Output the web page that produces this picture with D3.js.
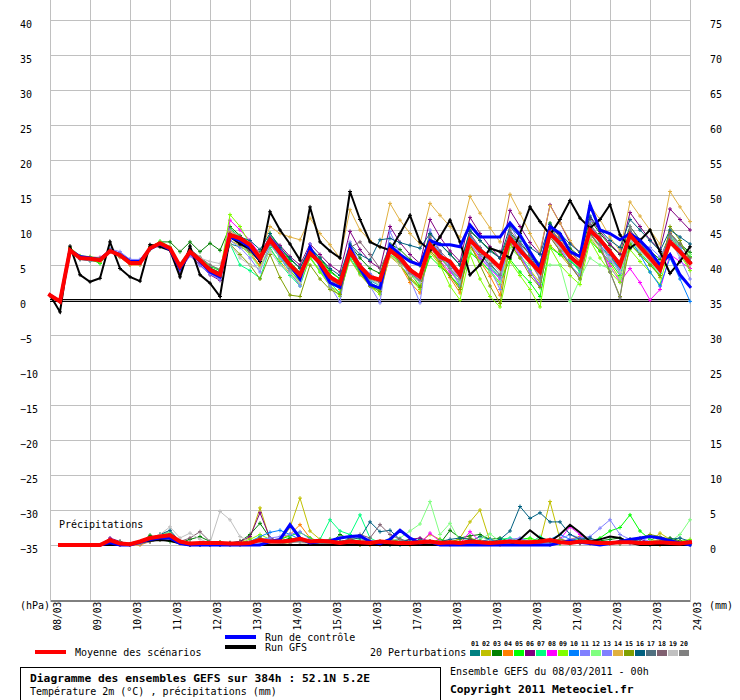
<!DOCTYPE html>
<html><head><meta charset="utf-8">
<script src="https://cdn.jsdelivr.net/npm/d3@7"></script>
<style>
html,body{margin:0;padding:0;background:#fff;}
svg{display:block;}
text{font-family:"DejaVu Sans Mono","Liberation Mono",monospace;fill:#000;}
</style></head><body>
<svg id="chart" width="740" height="700"></svg>
<script>
// ---------------- DATA ----------------
const dayLabels = ["08/03","09/03","10/03","11/03","12/03","13/03","14/03","15/03","16/03","17/03","18/03","19/03","20/03","21/03","22/03","23/03","24/03"];
const leftTicks = [40,35,30,25,20,15,10,5,0,-5,-10,-15,-20,-25,-30,-35];
const rightTicks = [75,70,65,60,55,50,45,40,35,30,25,20,15,10,5,0];
const memberLabels = ["01","02","03","04","05","06","07","08","09","10","11","12","13","14","15","16","17","18","19","20"];
const memberColors = ["#008080","#c0c000","#008000","#ff8000","#00ff00","#800080","#00ff80","#ff00ff","#80ff00","#0080ff","#8080ff","#80ff80","#8080ff","#e0b040","#80a000","#006080","#507080","#806070","#c0c0c0","#808080"];
const stepHours = 6;

// 2m temperature (°C), every 6 h from 08/03 00h (65 values)
const tempMean = [0.7,-0.2,7.1,6.0,5.9,5.7,7.0,6.4,5.3,5.3,7.4,8.1,7.4,4.8,6.9,5.7,4.3,3.6,
  9.3,8.8,7.9,6.0, 8.6,6.8,5.0,3.6, 6.7,5.3,3.3,2.4, 6.9,4.8,3.3,2.9, 7.1,6.0,4.3,3.3, 7.9,6.2,5.5,3.6,
  8.6,7.1,6.0,4.6, 8.8,7.1,5.5,4.0, 9.5,8.1,6.2,5.0, 10.0,8.6,6.9,5.0, 9.3,7.6,6.0,4.3, 8.3,6.9,5.3];
const tempControl = [0.7,-0.2,7.1,6.2,6.0,5.8,7.0,6.5,5.5,5.5,7.3,8.0,7.2,4.5,6.8,5.5,4.0,3.3,
  9.0,8.5,7.5,5.8, 8.8,7.0,5.0,3.0, 7.5,5.0,2.5,1.8, 7.5,4.5,2.2,1.7, 7.8,6.5,5.5,5.0, 8.5,7.9,7.9,7.6,
  10.7,9.0,9.0,9.0, 11.0,9.3,6.9,4.6, 10.5,9.5,6.9,6.2, 13.6,10.0,9.5,8.6, 9.5,8.5,7.0,5.0, 6.5,3.6,1.9];
const tempGFS = [0.7,-1.7,7.7,3.6,2.6,3.1,8.3,4.5,3.3,2.7,7.9,7.6,7.1,3.3,7.7,3.6,2.4,0.5,
  9.0,8.0,7.3,5.5, 12.6,10.0,8.0,5.7, 13.3,8.3,7.0,6.0, 15.5,11.5,8.3,7.6, 7.1,9.5,12.1,8.3, 7.1,9.0,11.4,8.3,
  3.6,5.0,7.4,6.9, 6.0,9.5,13.3,11.2, 9.3,11.5,14.2,11.7, 10.3,11.5,13.6,9.3, 7.4,8.5,10.0,6.9, 3.8,5.5,7.6];
const tempMembers = [
 [0.7,-0.2,7.0,5.8,5.6,5.5,7.0,6.2,5.1,5.2,7.6,8.0,7.5,4.3,6.8,5.4,4.2,3.2, 8.0,7.6,6.9,5.5, 8.0,6.0,4.1,2.8, 7.2,5.0,3.0,2.1, 6.5,4.0,2.5,1.7, 7.5,6.3,3.9,2.6, 8.4,6.0,4.5,2.5, 9.2,7.4,5.2,3.6, 8.9,8.4,6.4,3.9, 10.8,8.0,5.8,4.2, 9.4,7.8,6.2,4.5, 9.8,8.0,6.6,4.9, 8.4,6.8,4.5],
 [0.7,-0.2,7.2,6.3,6.1,5.8,7.2,6.6,5.6,5.4,7.3,8.2,7.2,5.0,7.0,5.9,4.6,3.9, 8.5,7.8,6.5,4.8, 7.2,5.5,3.8,2.2, 6.0,4.3,2.0,1.0, 5.8,3.6,2.0,1.5, 6.2,5.0,3.2,2.0, 6.8,5.0,3.5,1.8, 7.5,5.8,4.0,2.2, 8.2,6.0,4.3,2.5, 7.8,6.5,4.8,3.6, 8.9,7.0,5.2,3.0, 9.0,7.2,5.5,3.2, 9.6,7.9,6.1],
 [0.7,-0.2,7.2,6.1,5.8,5.6,7.1,6.5,5.6,5.5,7.6,8.3,8.3,6.9,8.3,6.9,8.1,7.1, 10.5,9.2,8.0,6.8, 9.0,7.5,5.8,4.6, 7.5,6.0,4.2,3.0, 7.8,6.0,4.5,3.8, 8.0,7.2,5.8,4.9, 9.4,8.0,6.6,5.0, 9.8,8.5,7.2,6.0, 9.6,8.0,6.6,5.2, 11.0,9.0,7.4,6.2, 11.5,9.5,7.8,6.5, 10.5,8.6,7.0,5.8, 9.5,8.0,6.8],
 [0.7,-0.2,7.0,5.9,5.7,5.4,6.9,6.1,5.0,5.0,7.5,8.0,7.3,4.5,6.6,5.4,4.0,3.0, 9.5,8.3,6.8,4.9, 8.8,6.5,4.5,3.0, 7.6,5.2,3.0,1.5, 7.0,4.2,2.0,0.8, 6.5,5.0,2.5,1.0, 7.2,5.2,3.2,1.0, 8.0,5.5,3.4,0.7, 8.5,6.8,5.2,3.5, 10.0,8.8,6.8,5.5, 10.8,8.5,6.2,4.0, 9.2,7.8,6.5,5.0, 9.8,7.0,4.5],
 [0.7,-0.2,7.3,6.2,5.9,5.2,7.1,6.6,5.5,5.6,7.2,8.4,7.6,4.6,7.2,6.0,4.8,4.2, 10.2,9.0,7.5,5.5, 9.5,7.6,5.5,3.9, 7.2,5.8,4.0,3.0, 7.5,5.0,3.5,2.5, 6.5,5.5,3.8,2.0, 6.2,4.8,3.5,2.0, 6.8,5.5,4.2,2.5, 5.8,4.0,2.5,0.5, 7.5,6.5,5.5,4.5, 8.5,7.0,5.5,3.5, 8.0,6.5,5.0,3.5, 9.2,7.8,6.2],
 [0.7,-0.2,7.1,6.1,6.0,6.0,7.0,6.3,5.4,5.3,7.4,8.1,7.2,4.0,6.5,5.0,3.6,2.8, 9.5,9.0,8.2,6.5, 9.0,7.8,6.2,5.0, 8.0,6.5,5.0,4.0, 9.8,7.2,5.5,4.5, 10.5,8.2,6.5,5.2, 11.5,9.0,7.0,5.5, 11.8,9.5,7.6,6.0, 12.8,10.5,8.2,6.6, 13.6,11.0,8.2,6.8, 11.8,9.8,8.0,6.6, 12.5,10.5,8.6,7.2, 13.0,11.5,10.0],
 [0.7,-0.2,7.0,5.9,5.9,5.6,7.2,6.4,5.2,5.1,7.3,8.0,7.4,5.2,7.2,6.0,4.9,4.4, 8.0,5.0,4.2,3.1, 7.5,5.2,3.5,2.0, 6.2,4.0,2.4,1.0, 6.0,3.8,2.2,1.2, 7.6,6.0,4.0,2.8, 8.4,6.5,4.2,2.6, 9.0,7.0,4.8,3.2, 8.6,6.5,4.2,1.8, 9.2,7.5,5.8,4.0, 9.5,7.8,6.0,4.2, 8.2,6.8,5.2,3.8, 9.0,7.4,5.5],
 [0.7,-0.2,7.1,6.0,6.1,6.1,7.0,6.4,5.5,5.4,7.5,8.2,7.3,4.7,6.7,5.5,4.2,3.5, 11.4,10.0,8.5,6.5, 9.2,7.5,5.2,3.8, 7.0,5.5,3.5,2.5, 7.2,5.2,3.4,2.6, 7.0,5.8,4.0,2.8, 7.5,5.6,4.0,2.5, 8.2,6.0,4.5,3.0, 8.5,6.2,4.0,2.0, 9.0,7.2,5.0,3.0, 9.6,7.5,4.8,2.6, 4.5,2.5,0.0,1.5, 6.5,5.5,4.5],
 [0.7,-0.2,7.5,6.3,6.2,6.0,7.1,6.6,5.7,5.5,7.6,8.3,7.6,4.9,7.0,5.8,4.5,3.8, 12.2,10.5,8.0,5.5, 9.5,6.5,4.2,2.5, 6.0,4.0,2.0,0.5, 6.5,4.0,2.0,0.8, 7.0,5.0,3.0,1.5, 8.0,5.0,2.0,0.0, 6.5,3.0,0.5,-1.0, 5.5,3.5,1.5,-1.0, 7.5,5.0,3.5,2.2, 8.5,6.0,4.0,2.5, 7.2,5.5,4.0,2.2, 8.0,6.5,4.2],
 [0.7,-0.2,7.0,6.0,5.8,5.6,6.9,6.3,5.2,5.2,7.3,8.0,7.5,4.4,6.9,5.6,4.1,3.3, 9.2,8.5,7.5,5.8, 8.2,6.3,4.5,3.0, 7.0,5.0,3.0,2.0, 7.0,4.5,2.8,2.0, 7.5,6.2,4.5,3.2, 8.5,6.8,5.0,3.5, 9.2,7.5,6.0,4.8, 9.4,7.6,5.8,4.2, 10.0,8.5,6.5,5.0, 10.5,8.8,6.5,4.2, 8.8,6.5,4.0,2.0, 6.0,3.0,-0.2],
 [0.7,-0.2,7.1,6.1,6.0,5.9,7.1,6.7,5.8,5.6,7.4,8.1,7.3,4.8,6.8,5.3,3.8,2.9, 10.0,9.0,7.8,5.5, 8.5,6.5,4.8,3.2, 7.5,5.0,3.5,2.3, 7.8,5.0,3.8,2.8, 7.8,6.2,4.0,2.5, 8.6,6.8,5.0,3.0, 9.5,7.0,4.5,1.5, 10.8,8.0,5.5,3.2, 9.8,7.5,5.2,3.0, 11.2,8.0,5.5,4.5, 9.5,8.0,7.5,6.2, 8.8,6.0,3.0],
 [0.7,-0.2,7.2,6.2,5.9,5.6,7.1,6.5,5.5,5.6,7.5,8.2,7.6,5.0,7.1,6.1,4.9,4.4, 9.0,8.0,6.5,4.5, 8.0,6.0,4.3,3.0, 6.5,5.0,3.2,2.0, 6.5,4.5,3.0,2.0, 7.0,5.5,3.8,2.5, 8.0,6.5,4.5,2.5, 7.0,5.5,4.0,2.5, 7.5,6.0,5.0,4.5, 5.0,5.0,-0.2,3.0, 6.0,5.0,4.5,3.0, 8.5,7.2,5.8,4.5, 9.5,8.0,6.5],
 [0.7,-0.2,7.0,5.8,5.7,5.7,7.3,6.9,5.8,5.8,7.2,7.9,7.2,4.2,6.3,4.9,3.7,3.0, 8.5,7.5,6.0,4.0, 8.0,6.2,4.0,2.0, 8.0,4.5,2.0,-0.3, 8.3,5.0,2.0,-0.4, 9.8,6.5,3.0,-0.4, 10.0,7.0,4.5,2.0, 8.0,6.2,4.5,3.2, 8.5,6.5,4.0,2.2, 9.0,7.0,5.0,3.5, 10.5,8.5,6.0,3.8, 9.5,8.0,6.0,4.0, 9.5,7.5,5.5],
 [0.7,-0.2,7.1,6.0,5.9,5.5,6.9,6.2,5.1,5.1,7.4,8.2,7.5,4.9,7.0,5.9,4.5,3.9, 9.8,9.0,8.0,6.5, 10.5,9.5,9.0,8.6, 11.7,9.5,7.9,6.0, 12.9,10.0,8.5,7.5, 13.8,11.4,9.5,8.0, 13.8,12.1,10.5,9.0, 14.8,12.4,10.3,8.3, 15.1,12.4,9.5,7.0, 13.5,11.0,8.5,6.5, 13.5,11.5,9.0,7.0, 14.0,12.0,10.0,8.0, 15.5,13.3,11.2],
 [0.7,-0.2,7.0,5.9,5.8,5.7,7.0,6.4,5.3,5.3,7.3,8.0,7.4,4.6,6.8,5.5,4.1,3.4, 8.0,6.5,5.0,3.0, 6.5,3.2,0.7,0.5, 5.0,3.0,1.5,0.8, 6.5,4.0,2.0,1.2, 7.5,5.2,3.0,1.8, 7.0,5.5,3.5,1.5, 8.0,5.0,2.0,-0.5, 8.0,6.0,3.5,1.8, 9.0,7.0,5.0,3.0, 9.5,7.5,4.0,0.5, 8.0,6.5,5.0,3.5, 10.5,8.5,5.5],
 [0.7,-0.2,7.1,6.0,5.9,5.8,7.1,6.4,5.4,5.3,7.5,8.1,7.3,4.7,6.9,5.9,4.6,3.9, 9.5,9.0,8.5,7.2, 9.5,7.5,6.0,4.5, 7.5,6.0,4.5,3.5, 8.0,6.5,5.7,8.6, 8.8,8.2,7.8,7.4, 9.5,8.0,6.5,5.0, 10.0,8.5,7.0,6.0, 10.5,9.0,7.5,6.5, 10.8,9.5,8.0,6.8, 12.0,10.0,8.5,7.5, 11.5,10.0,8.5,7.0, 10.0,9.0,8.0],
 [0.7,-0.2,7.1,6.1,6.0,5.8,7.0,6.3,5.2,5.2,7.4,8.0,7.4,4.9,6.9,5.6,4.3,3.7, 9.0,8.0,7.0,5.8, 8.5,6.5,4.8,3.5, 6.8,5.5,3.2,2.0, 7.0,5.0,3.5,2.8, 7.0,6.0,4.5,3.5, 8.0,6.5,5.0,3.8, 8.5,7.0,5.5,4.5, 9.0,7.5,6.0,4.0, 9.5,8.0,6.5,5.2, 9.5,8.5,7.0,5.5, 9.0,7.5,6.0,4.5, 8.5,7.0,5.5],
 [0.7,-0.2,7.1,6.0,5.9,5.7,7.0,6.5,5.4,5.4,7.4,8.1,7.4,4.8,7.3,6.1,5.0,4.3, 9.0,8.0,7.0,5.5, 8.0,6.5,4.8,3.6, 7.0,5.5,3.5,2.6, 7.5,8.3,6.5,4.5, 7.5,6.5,4.5,3.5, 9.0,7.0,5.5,4.0, 9.5,7.5,6.0,4.8, 10.0,8.0,6.5,4.5, 10.5,9.0,7.0,5.5, 10.8,9.0,7.2,5.2, 10.0,8.2,6.5,4.8, 9.5,8.0,6.0],
 [0.7,-0.2,7.1,6.0,5.8,5.7,7.0,6.4,5.3,5.3,7.4,8.1,7.4,4.8,6.9,6.0,5.5,5.2, 8.0,6.0,5.0,4.5, 7.0,5.0,3.8,2.5, 6.5,4.8,3.0,2.0, 6.8,4.5,3.0,2.2, 6.5,5.0,3.5,2.5, 7.5,6.0,4.5,3.0, 8.0,6.5,5.5,4.0, 8.5,7.0,5.5,3.5, 9.0,7.5,6.0,4.5, 9.0,7.5,6.0,4.0, 8.5,7.0,5.5,4.0, 8.0,6.5,5.0],
 [0.7,-0.2,7.0,5.9,5.9,5.7,7.0,6.4,5.3,5.4,7.4,8.1,7.4,4.7,6.8,5.6,4.2,3.4, 9.0,8.5,7.5,5.8, 8.5,6.5,4.5,3.2, 6.5,5.0,3.0,2.0, 6.5,4.5,3.0,2.5, 7.0,5.5,3.8,2.8, 7.8,6.0,4.5,3.0, 8.5,6.5,5.0,3.5, 9.5,7.5,5.5,3.0, 10.0,8.0,6.0,4.5, 10.5,8.0,4.0,0.3, 10.5,8.5,6.5,4.5, 9.0,7.0,5.5]
];

// 6-hourly precipitation (mm), from 08/03 06h (64 values)
const precipMean = [0,0,0,0,0,0.7,0.2,0.1, 0.5,1.0,1.2,1.4,0.5,0.2,0.3,0.3, 0.3,0.2,0.2,0.3,0.7,0.5,0.5,0.6, 0.9,0.5,0.6,0.5,0.3,0.5,0.4,0.3,
  0.5,0.4,0.3,0.3,0.4,0.5,0.3,0.4, 0.3,0.5,0.4,0.3,0.4,0.5,0.4,0.4, 0.5,0.7,0.4,0.3,0.5,0.4,0.3,0.3, 0.4,0.4,0.3,0.3,0.4,0.3,0.2,0.4];
const precipControl = [0,0,0,0,0,0.3,0,0, 0.4,0.8,1.0,1.0,0.2,0,0,0, 0,0,0,0,0,0.5,0.8,2.9, 1.0,0.3,0.5,0.6,1.0,1.2,1.3,0.5,
  0.2,0.8,2.1,1.0,0.3,0.5,0,0, 0,0,0,0,0,0,0,0, 0,0,0.3,0.6,0.4,0.2,0,0.2, 0.5,0.8,1.0,1.2,1.0,0.6,0.3,0];
const precipGFS = [0,0,0,0,0,0,0,0.2, 0.5,0.6,0.7,0.6,0.2,0,0,0, 0,0,0,0,0,0,0,0, 0,0,0,0,0,0,0,0,
  0,0,0,0,0,0,0,0, 0,0,0,0,0,0,0.8,2.1, 1.0,0.5,1.5,2.9,1.8,0.5,0.8,1.2, 1.0,0.3,0,0,0,0,0,0];
const precipMembers = [
 [0,0,0,0,0,0.5,0.3,0, 0.2,0.8,1.5,1.8,0.5,0,0.2,0.3, 0,0,0,0.2,0.6,0.3,0.2,0.4, 0.6,0.3,0.2,0.8,0.4,0.2,0,0.2, 0.4,0,0,0.3,0.8,0.5,0.2,0.3, 0.2,0.5,1.2,0.8,0.3,0.5,0.8,0.4, 0.2,0,0.4,0.6,1.0,0.5,0.3,0.2, 0.6,0.4,0.2,0,0.3,0.5,0.3,0],
 [0,0,0,0,0,0.4,0.2,0, 0.3,0.5,1.0,1.2,0.3,0,0,0.2, 0.4,0.2,0.5,1.0,5.3,0.8,0.5,2.5, 6.7,2.0,0.8,0.3,0.5,0.2,0,0.3, 0.2,0.5,0.3,0.2,0.4,1.5,0.8,0.2, 1.0,3.3,5.0,0.5,0.3,0.2,0.5,0.3, 0.5,6.2,0.8,0.4,0.3,0.2,0.5,0.2, 0.3,0.5,0.2,0.5,1.7,0.8,0.4,0.3],
 [0,0,0,0,0,0.6,0.5,0.1, 0.3,1.4,0.8,0.5,0.3,0.8,1.2,0.5, 0.4,0.3,0.5,1.5,3.1,1.0,0.5,1.0, 0.5,0.3,0.3,0.2,1.5,0.8,0.5,0.3, 0.3,0.2,0.5,0.8,0.4,0.3,0.2,2.1, 1.0,1.3,1.5,0.8,1.0,0.5,0.3,0.4, 0.8,0.5,0.3,0.2,0.4,0.5,0.6,0.8, 1.0,0.5,0.4,0.2,0.5,1.0,0.6,0.4],
 [0,0,0,0,0,0.2,0,0, 0,0.5,0.8,1.0,0.2,0,0,0, 0,0,0.2,0.5,1.0,0.5,0.8,1.5, 2.9,1.0,0.5,0.2,0.3,0.5,0.2,0, 0,0.3,0.2,0,0.2,0.5,0.3,0, 0.2,0.3,0.5,0.2,0,0.3,0.5,0.2, 0.3,0.5,0.3,0.8,1.2,0.5,0.3,0.2, 0.2,0.5,0.3,0.2,0,0.2,0.3,0.2],
 [0,0,0,0,0,0.5,0.3,0, 0.2,0.6,0.9,1.0,0.3,0.2,0,0, 0.2,0,0.3,0.5,0.8,0.5,0.8,1.3, 1.8,1.0,0.4,0.3,0.2,0.5,0.3,0.2, 0.3,0.5,0.8,0.4,0.2,0.3,0.8,0.5, 0.3,0.2,0.5,0.3,0.2,0.4,0.8,1.0, 0.5,0.3,0.2,0.5,0.8,0.5,1.0,2.0, 2.5,4.3,2.0,0.8,0.5,0.3,0.4,0.2],
 [0,0,0,0,0,1.0,0.5,0, 0.2,0.8,1.2,1.6,0.5,0.2,0,0.3, 0.2,0.3,0.5,1.2,4.6,1.0,0.5,0.3, 0.5,0.3,0.2,0.5,0.3,0.2,0.8,0.5, 0.2,0.5,0.3,0.8,1.0,0.5,0.3,0.2, 0.3,0.8,0.5,0.3,0.2,0.5,0.3,0.2, 0.4,0.5,0.8,0.5,0.3,0.2,0.4,0.2, 0.3,0.5,0.8,0.4,0.2,0.3,0.4,0.2],
 [0,0,0,0,0,0.3,0.2,0, 0.2,0.5,0.8,1.2,0.3,0,0,0.2, 0.3,0.2,0.3,0.5,0.8,0.5,0.3,0.5, 0.8,0.5,0.8,3.6,2.0,1.5,4.3,1.0, 0.3,0.2,0.5,0.3,0.2,0.5,0.3,0.2, 0.3,0.2,0.4,0.5,0.8,1.0,0.5,0.3, 1.2,0.5,0.3,0.2,0.4,0.3,0.2,0.5, 0.3,0.2,0.5,0.3,0.2,0.4,0.3,0.2],
 [0,0,0,0,0,0.5,0.3,0, 0.2,0.6,1.0,1.3,0.4,0,0,0, 0,0.2,0.3,0.5,0.8,0.3,0.2,0.5, 0.8,0.4,0.3,0.2,0.5,0.3,0.2,0.5, 0.3,0.2,0.5,0.3,0.2,1.7,0.5,0.3, 0.2,1.9,0.5,0.3,0.2,0.5,0.8,0.5, 0.3,0.5,0.8,2.6,1.5,0.5,0.3,0.2, 0.3,0.2,0.4,0.3,0.2,0.5,0.3,0.2],
 [0,0,0,0,0,0.6,0.4,0, 0.3,0.8,1.2,1.5,0.4,0.2,0,0, 0.2,0,0.3,0.8,1.5,0.8,0.5,0.5, 0.6,0.3,0.5,0.8,0.5,0.3,0.2,0.4, 0.5,0.8,0.4,0.3,0.5,0.4,0.3,0.2, 0.5,0.3,0.5,0.8,0.4,0.3,0.5,0.8, 0.5,0.3,0.2,0.3,0.5,0.8,0.5,0.3, 0.2,0.5,0.4,0.3,0.2,0.3,0.5,0.8],
 [0,0,0,0,0,0.3,0.2,0, 0.3,0.7,1.0,1.5,0.5,0,0,0, 0,0,0.2,0.5,1.2,1.8,2.1,1.5, 0.8,0.4,0.3,0.5,0.2,0.3,0.5,0.2, 0.3,0.5,0.2,0.4,0.3,0.2,0.5,0.3, 0.2,0.3,0.5,0.8,0.3,0.2,0.4,0.5, 0.3,0.8,1.5,0.8,0.5,0.3,0.2,0.4, 0.5,0.3,0.2,0.4,0.8,0.5,0.3,0.2],
 [0,0,0,0,0,0.4,0.3,0, 0.2,0.5,0.9,1.2,0.3,0,0,0, 0,0.2,0.2,0.3,0.8,1.0,1.2,1.5, 1.9,0.8,0.3,0.2,0.4,0.3,0.2,0.3, 0.2,0.3,0.4,0.2,0.3,0.5,0.2,0.3, 0.2,0.4,0.3,0.5,0.3,0.2,0.3,0.5, 0.3,0.3,0.5,0.8,1.0,1.2,2.4,3.6, 1.5,0.8,0.5,0.3,0.3,0.5,0.3,0.2],
 [0,0,0,0,0,0.4,0.2,0, 0.3,0.8,1.5,1.8,0.4,0,0,0.2, 0.2,0.3,0.2,0.5,0.8,0.4,0.3,0.5, 0.5,0.3,0.2,0.4,0.3,0.5,0.8,0.5, 0.3,0.5,1.0,2.0,3.0,6.2,1.5,3.1, 0.5,0.3,0.8,1.6,0.5,0.3,0.2,0.5, 0.3,0.5,0.3,0.2,0.4,0.3,0.5,0.3, 0.2,0.5,0.3,0.4,0.3,0.5,1.5,3.6],
 [0,0,0,0,0,0.5,0.2,0, 0.2,0.5,0.8,1.0,0.3,0.2,0,0, 0,0,0.2,0.3,0.5,0.8,0.5,0.3, 0.5,0.3,0.5,0.3,0.2,0.5,0.3,0.2, 0.3,0.5,0.8,0.3,0.2,0.3,0.5,0.3, 0.2,0.5,0.3,0.2,0.5,0.8,1.0,0.5, 0.3,0.5,0.8,1.5,1.0,0.8,0.5,0.3, 0.5,0.8,1.0,0.5,0.3,0.5,0.3,0.2],
 [0,0,0,0,0,0.3,0.2,0, 0.2,0.5,0.8,1.1,0.3,0,0,0, 0,0,0,0.2,0.5,0.3,0.2,0.3, 0.5,0.3,0.2,0.3,0.2,0.3,0.2,0, 0.2,0.3,0.2,0.3,0.4,0.2,0.5,0.3, 0.2,0.3,0.2,0.5,0.3,0.2,0.3,0.5, 0.3,0.5,0.3,0.2,0.4,0.3,0.2,0.3, 0.2,0.4,0.3,0.5,0.8,0.5,0.3,0.2],
 [0,0,0,0,0,0.3,0.2,0, 0.2,0.6,1.0,1.2,0.4,0,0,0, 0,0.2,0.3,0.5,1.0,0.5,0.3,0.5, 0.8,0.3,0.5,0.2,0.5,0.8,0.5,0.3, 0.5,0.8,0.5,0.3,0.2,0.5,0.3,0.5, 0.8,1.0,0.5,0.3,0.5,0.3,0.2,0.5, 0.3,0.5,0.8,0.5,0.3,0.5,0.3,0.2, 0.5,0.8,1.0,1.5,1.2,0.8,0.5,0.3],
 [0,0,0,0,0,0.5,0.3,0, 0.3,1.0,1.5,2.1,0.5,0,0,0.2, 0.2,0.3,0.2,0.5,0.8,0.5,0.3,0.5, 0.8,0.5,0.3,0.2,0.5,0.8,1.0,3.3, 1.9,2.1,0.8,0.5,0.3,0.2,0.5,0.8, 1.0,0.8,0.5,0.3,0.8,2.0,5.5,3.8, 4.6,3.3,3.3,1.5,0.8,1.0,0.5,0.3, 0.5,0.8,0.5,0.3,0.5,0.8,1.0,0.5],
 [0,0,0,0,0,0.4,0.2,0, 0.3,0.6,1.0,1.2,0.3,0,0,0, 0,0.2,0.3,0.5,0.6,0.4,0.3,0.4, 0.6,0.3,0.2,0.4,0.5,0.3,0.2,0.3, 0.5,0.3,0.2,0.3,0.5,0.4,0.3,0.2, 0.3,0.5,0.4,0.3,0.2,0.4,0.5,0.3, 0.4,0.5,0.3,0.2,0.3,0.4,0.5,0.3, 0.2,0.3,0.5,0.4,0.3,0.2,0.3,0.2],
 [0,0,0,0,0,0.2,0,0, 0.2,0.5,0.8,0.9,0.5,1.0,1.9,0.5, 0.3,0.2,0.3,0.4,0.5,0.3,0.2,0.4, 0.5,0.3,0.2,0.3,0.5,0.8,1.5,1.0, 2.9,1.5,0.8,0.3,0.2,0.3,0.5,0.3, 0.2,0.3,0.5,0.4,0.3,0.2,0.3,0.4, 0.3,0.5,0.4,0.3,0.2,0.3,0.4,0.3, 0.2,0.3,0.4,0.3,0.2,0.3,0.2,0.3],
 [0,0,0,0,0,0.3,0.2,0, 0.2,0.8,1.5,2.6,1.0,1.7,0.8,0.3, 4.8,3.6,1.2,0.5,0.3,0.2,0.3,0.5, 0.3,0.2,0.5,0.3,0.2,0.5,0.3,0.2, 0.3,0.2,0.5,0.3,0.2,0.3,0.5,0.2, 0.3,0.2,0.3,0.5,0.2,0.3,0.2,0.5, 0.3,0.2,0.4,0.3,0.5,0.2,0.3,0.2, 0.3,0.2,0.3,0.5,0.3,0.2,0.3,0.2],
 [0,0,0,0,0,0.3,0.2,0.1, 0.3,0.7,1.2,1.5,0.4,0.2,0,0, 0.2,0.3,0.2,0.4,0.6,0.5,0.3,0.4, 0.5,0.4,0.3,0.2,0.3,0.5,0.4,0.3, 0.4,0.3,0.5,0.3,0.2,0.4,0.3,0.5, 0.4,0.3,0.2,0.5,0.4,0.3,0.5,0.4, 0.3,0.4,0.5,0.3,0.4,0.5,0.3,0.4, 0.3,0.4,0.3,0.2,0.3,0.4,0.3,0.2]
];

// ---------------- DRAWING ----------------
const svg = d3.select("#chart");
const font = "'DejaVu Sans Mono','Liberation Mono',monospace";
const grid = "#c0c0c0";
const totalHours = (dayLabels.length - 1) * 24;
const x = d3.scaleLinear().domain([0, totalHours]).range([50, 690]);
const yT = d3.scaleLinear().domain([-35, 40]).range([545, 20]);
const yP = d3.scaleLinear().domain([0, 75]).range([545, 20]);

const bad = [tempMean,tempControl,tempGFS,...tempMembers].some(a=>a.length!==65) ||
            [precipMean,precipControl,precipGFS,...precipMembers].some(a=>a.length!==64);
if (bad) svg.append("text").attr("x",300).attr("y",100).attr("fill","red").text("DATA LENGTH ERROR");

function label(xp, yp, txt, size, bold) {
  return svg.append("text").attr("x", xp).attr("y", yp).attr("font-size", size)
    .attr("font-weight", bold ? "bold" : "normal").attr("font-family", font)
    .attr("fill", "#000").style("fill", "#000").text(txt);
}

// grid
svg.append("g").selectAll("line").data(d3.range(0, totalHours + 1, 24)).join("line")
  .attr("x1", d => Math.round(x(d)) + 0.5).attr("x2", d => Math.round(x(d)) + 0.5)
  .attr("y1", 0).attr("y2", 600).attr("stroke", grid).attr("stroke-width", 1);
svg.append("g").selectAll("line").data(leftTicks).join("line")
  .attr("x1", 50).attr("x2", 690)
  .attr("y1", d => Math.round(yT(d)) + 0.5).attr("y2", d => Math.round(yT(d)) + 0.5)
  .attr("stroke", grid).attr("stroke-width", 1);

// zero double line (rows 299 and 301)
[-0.5, 1.5].forEach(o => {
  svg.append("line").attr("x1", 50).attr("x2", 690)
    .attr("y1", yT(0) + o).attr("y2", yT(0) + o)
    .attr("stroke", "#000").attr("stroke-width", 1);
});

// axes
const gl = svg.append("g").attr("transform", "translate(20,0)")
  .call(d3.axisRight(yT).tickValues(leftTicks).tickSize(0).tickPadding(0));
gl.select(".domain").remove();
gl.attr("font-family", font).attr("font-size", 10);
gl.selectAll("text").attr("x", 0).attr("dy", "0.73em").attr("fill", "#000");

const gr = svg.append("g").attr("transform", "translate(710,0)")
  .call(d3.axisRight(yP).tickValues(rightTicks).tickSize(0).tickPadding(0));
gr.select(".domain").remove();
gr.attr("font-family", font).attr("font-size", 10);
gr.selectAll("text").attr("x", 0).attr("dy", "0.73em").attr("fill", "#000");

const gx = svg.append("g").attr("transform", "translate(0,600.5)")
  .call(d3.axisBottom(x).tickValues(d3.range(0, totalHours + 1, 24))
    .tickFormat((d, i) => dayLabels[i]).tickSize(0).tickSizeOuter(0));
gx.attr("font-family", font).attr("font-size", 9.6);
gx.select(".domain").attr("stroke", "#000");
gx.selectAll("text").attr("y", null).attr("dy", null).attr("text-anchor", "start")
  .attr("fill", "#000").attr("transform", "translate(10.5,30) rotate(-90)");

// series drawing helper
function drawSeries(values, offset, yScale, color, width, markers) {
  const pts = values.map((v, i) => [x((i + offset) * stepHours), yScale(v)]);
  svg.append("path").datum(pts)
    .attr("d", d3.line())
    .attr("fill", "none").attr("stroke", color).attr("stroke-width", width)
    .attr("stroke-linejoin", "miter").attr("stroke-linecap", "square");
  if (markers) {
    svg.append("path")
      .attr("d", pts.map(([px, py]) => `M${px - 2},${py}H${px + 2}M${px},${py - 2}V${py + 2}`).join(""))
      .attr("fill", "none").attr("stroke", color).attr("stroke-width", 1);
  }
}

// precipitation
precipMembers.forEach((s, k) => drawSeries(s, 1, yP, memberColors[k], 1, true));
drawSeries(precipGFS, 1, yP, "#000", 2, false);
drawSeries(precipControl, 1, yP, "#0000ff", 3, false);
drawSeries(precipMean, 1, yP, "#ff0000", 4, false);

// temperature
tempMembers.forEach((s, k) => drawSeries(s, 0, yT, memberColors[k], 1, true));
drawSeries(tempGFS, 0, yT, "#000", 2, true);
drawSeries(tempControl, 0, yT, "#0000ff", 3, false);
drawSeries(tempMean, 0, yT, "#ff0000", 4, false);

// texts
label(20, 609, "(hPa)", 10);
label(59, 528, "Précipitations", 10);

// legend
svg.append("rect").attr("x", 225).attr("y", 635).attr("width", 31).attr("height", 4).attr("fill", "#0000ff");
label(265, 640.5, "Run de contrôle", 10);
svg.append("rect").attr("x", 225).attr("y", 645).attr("width", 31).attr("height", 4).attr("fill", "#000");
label(265, 650.5, "Run GFS", 10);
svg.append("rect").attr("x", 35).attr("y", 650).attr("width", 31).attr("height", 4).attr("fill", "#ff0000");
label(75, 656, "Moyenne des scénarios", 10);
label(370, 656, "20 Perturbations", 10);

const lg = svg.append("g");
lg.selectAll("rect").data(memberColors).join("rect")
  .attr("x", (d, i) => 470 + i * 11).attr("y", 650).attr("width", 10).attr("height", 6).attr("fill", d => d);
lg.selectAll("text").data(memberLabels).join("text")
  .attr("x", (d, i) => 475 + i * 11).attr("y", 645.7).attr("text-anchor", "middle")
  .attr("font-size", 6.6).attr("font-weight", "bold").attr("font-family", font).text(d => d);

// title box
svg.append("rect").attr("x", 20.5).attr("y", 667.5).attr("width", 420).attr("height", 33)
  .attr("fill", "none").attr("stroke", "#000").attr("stroke-width", 1);
label(30, 682, "Diagramme des ensembles GEFS sur 384h : 52.1N 5.2E", 11.3, true);
label(30, 695, "Température 2m (°C) , précipitations (mm)", 10);
label(450, 675, "Ensemble GEFS du 08/03/2011 - 00h", 10);
label(450, 693, "Copyright 2011 Meteociel.fr", 11.3, true);
label(709, 609, "(mm)", 10);
</script>
</body></html>
